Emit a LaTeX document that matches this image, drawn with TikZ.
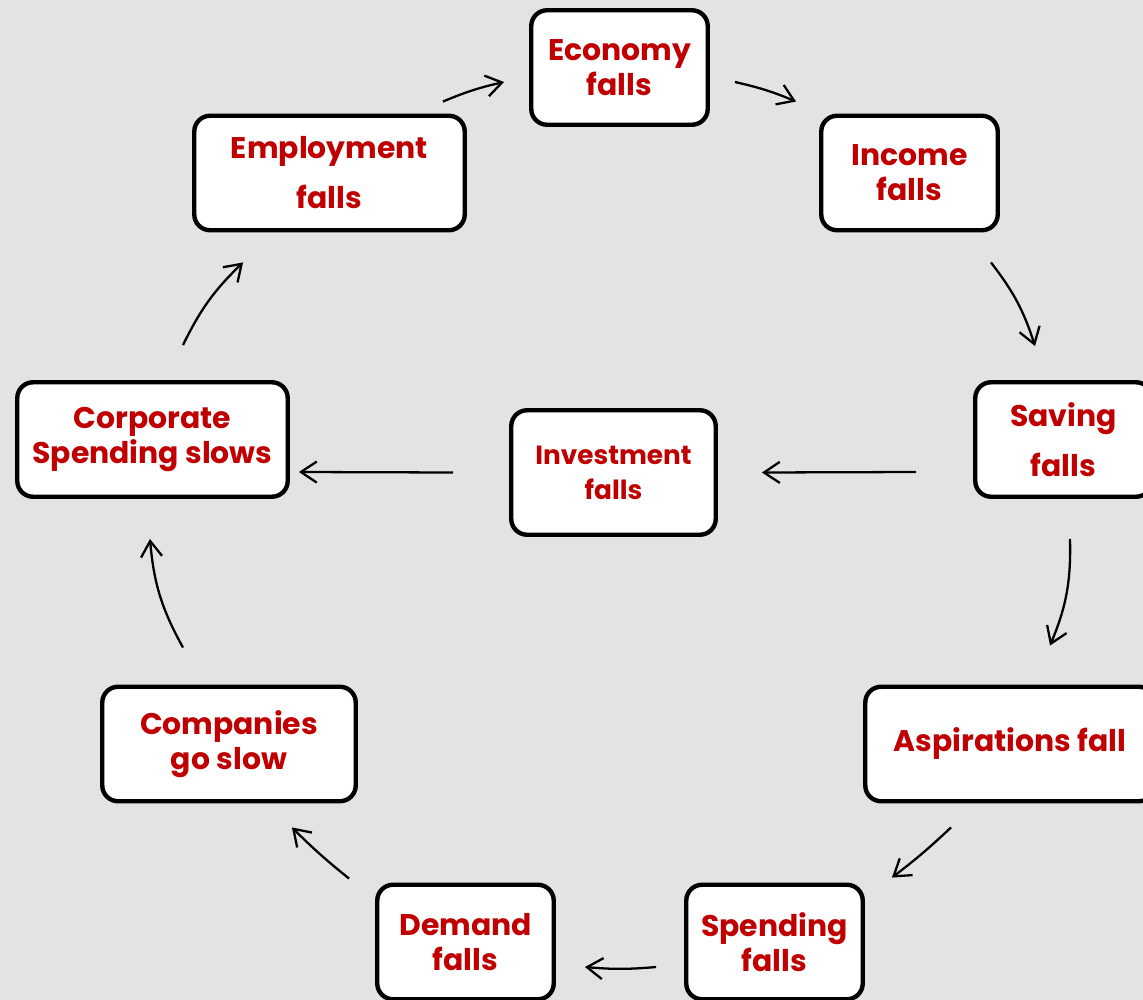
\documentclass[tikz,border=0pt]{standalone}
\usepackage{fontspec}
\setmainfont{Poppins}
\usepackage{xcolor}
\usepackage{tikz}
\usetikzlibrary{positioning, calc, arrows.meta, shapes}
\definecolor{panelgray}{RGB}{227,227,227}
\definecolor{fallred}{RGB}{192,0,0}

\begin{document}
\begin{tikzpicture}[x=0.02cm, y=-0.02cm,
		box/.style={draw=black, line width=2.5pt, fill=white, rounded corners=9pt, text=fallred, align=center, inner sep=0pt, font=\bfseries\fontsize{17}{20}\selectfont},
		flow/.style={line width=1.3pt, -{Straight Barb[length=9pt, width=12pt]}}]
		\path[use as bounding box, fill=panelgray] (0,0) rectangle (1143,1000);
		\clip (0,0) rectangle (1143,1000);
		\pgfmathsetmacro{\boxh}{2.29}
		
		\node[box, minimum width=3.53cm, minimum height=\boxh cm] (eco) at (619.5,67.5) {Economy\\falls};
		\node[box, minimum width=3.53cm, minimum height=\boxh cm] (inc) at (909.5,173) {Income\\falls};
		\node[box, minimum width=3.53cm, minimum height=\boxh cm] (sav) at (1063.5,439.5) {Saving\\[8.5pt]falls};
		\node[box, minimum width=5.79cm, minimum height=\boxh cm] (asp) at (1010,744) {Aspirations fall};
		\node[box, minimum width=3.53cm, minimum height=\boxh cm] (spe) at (774.5,942) {Spending\\falls};
		\node[box, minimum width=3.53cm, minimum height=\boxh cm] (dem) at (465.5,942) {Demand\\falls};
		\node[box, minimum width=5.07cm, minimum height=\boxh cm] (com) at (229,744) {Companies\\go slow};
		\node[box, minimum width=5.41cm, minimum height=\boxh cm] (cor) at (152.5,439.5) {Corporate\\Spending slows};
		\node[box, minimum width=5.41cm, minimum height=\boxh cm] (emp) at (329.5,173) {Employment\\[8.5pt]falls};
		\node[box, minimum width=4.09cm, minimum height=2.49cm, font=\bfseries\fontsize{15}{20}\selectfont] (inv) at (613.5,472.5) {Investment\\falls};
		
		\draw[flow] ($(emp.north east)+(-24,-12)$) to[bend left=5] ($(eco.west)+(-25,14.5)$);
		\draw[flow] ($(eco.east)+(25,14.5)$) to[bend left=5] ($(inc.north west)+(-23,-12)$);
		\draw[flow] ($(inc.south east)+(-9,30)$) to[bend left=10] ($(sav.north)+(-28.5,-34)$);
		\draw[flow] ($(sav.south)+(6.5,40)$) to[bend left=12] ($(asp.north)+(40,-39)$);
		\draw[flow] ($(asp.south)+(-59,24)$) to[bend left=3] ($(spe.north east)+(27,-5)$);
		\draw[flow] ($(spe.west)+(-28,25)$) to[bend left=5] ($(dem.east)+(29,25)$);
		\draw[flow] ($(dem.north west)+(-26,-4)$) to[bend left=3] ($(com.south east)+(-66,24)$);
		\draw[flow] ($(com.north)+(-46,-37)$) to[bend left=12] ($(cor.south)+(-2.5,40)$);
		\draw[flow] ($(cor.north)+(30.5,-35)$) to[bend left=10] ($(emp.south west)+(51,30)$);
		\draw[flow] ($(sav.west)+(-57,32.5)$) -- ($(inv.east)+(44,0)$);
		\draw[flow] ($(inv.west)+(-56,0)$) -- ($(cor.east)+(9,32.5)$);
		
\end{tikzpicture}
\end{document}
